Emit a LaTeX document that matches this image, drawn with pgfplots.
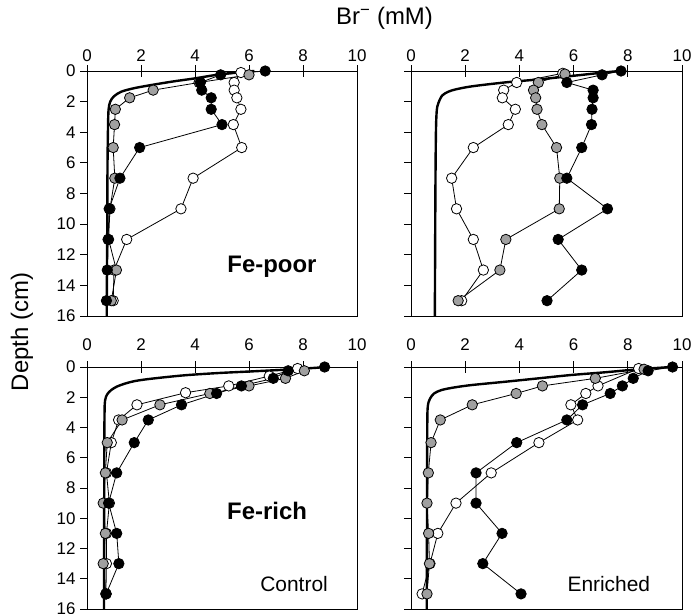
\documentclass[border=0pt]{standalone}
\usepackage{fontspec}
\setmainfont{Liberation Sans}
\usepackage{pgfplots}
\pgfplotsset{compat=1.18}
\definecolor{mgray}{RGB}{160,160,160}
\pgfplotsset{
  panel/.style={
    scale only axis, anchor=north west, width=270bp,
    xmin=0, xmax=10, ymin=0, ymax=16, y dir=reverse,
    xtick={0,2,...,10}, ytick={0,2,...,16},
    xtick pos=right, ytick pos=left,
    xticklabel pos=right,
    major tick length=12bp,
    tick align=center, ytick align=outside,
    xtick style={line width=0.8bp, black},
    ytick style={/pgfplots/major tick length=7bp, line width=0.8bp, black},
    minor tick num=0,
    axis line style={line width=0.8bp, black},
    ticklabel style={font=\fontsize{17}{20}\selectfont},
    /pgf/number format/assume math mode=true,
    xticklabel style={anchor=base, inner sep=0pt},
    yticklabel style={xshift=4bp},
    clip=false,
  },
  model/.style={line width=2.4bp, black, smooth, no marks},
  ser/.style={line width=0.8bp, black, mark=*, mark size=5.2bp,
     mark options={line width=0.8bp, draw=black, fill=#1}},
}
\begin{document}
\begin{tikzpicture}
\useasboundingbox (0,0) rectangle (694bp,-614bp);
% ---------- top left: Fe-poor control
\begin{axis}[panel, at={(87bp,-71bp)}, height=245bp,
  xticklabel style={yshift=4bp}]
\addplot[model] coordinates {(6.2,0) (5.5,0.1) (4.8,0.25) (4.0,0.48) (3.2,0.68) (2.4,0.91) (1.75,1.12) (1.27,1.35) (1.0,1.65) (0.86,2.0) (0.80,2.5) (0.78,3.5) (0.76,6) (0.75,10) (0.73,16)};
\addplot[ser=white] coordinates {(5.7,0.1) (5.45,0.75) (5.45,1.25) (5.55,1.75) (5.7,2.5) (5.42,3.5) (5.73,5) (3.93,7) (3.48,9) (1.47,11) (1.0,13) (0.97,15)};
\addplot[ser=mgray] coordinates {(6.0,0.25) (4.15,0.75) (2.45,1.25) (1.58,1.75) (1.05,2.5) (1.02,3.5) (0.97,5) (1.03,7) (0.85,9) (0.8,11) (1.09,13) (0.9,15)};
\addplot[ser=black] coordinates {(6.6,0) (4.95,0.25) (4.2,0.75) (4.25,1.25) (4.6,1.75) (4.6,2.5) (5.0,3.5) (1.95,5) (1.22,7) (0.82,9) (0.78,11) (0.75,13) (0.72,15)};
\node[font=\bfseries\fontsize{24}{28}\selectfont] at (axis cs:6.85,12.8) {Fe-poor};
\end{axis}
% ---------- top right: Fe-poor enriched
\begin{axis}[panel, at={(411bp,-71bp)}, width=271bp, height=245bp, yticklabels={},
  xticklabel style={yshift=4bp}]
\addplot[model] coordinates {(7.7,0) (7.1,0.1) (5.9,0.33) (4.7,0.55) (3.5,0.74) (2.25,1.0) (1.65,1.2) (1.38,1.35) (1.15,1.6) (1.01,2.1) (0.95,2.6) (0.92,4) (0.9,8) (0.88,16)};
\addplot[ser=white] coordinates {(5.6,0.15) (3.9,0.75) (3.42,1.25) (3.37,1.75) (3.85,2.5) (3.59,3.5) (2.3,5) (1.5,7) (1.68,9) (2.3,11) (2.67,13) (1.87,15)};
\addplot[ser=mgray] coordinates {(5.68,0.2) (4.7,0.75) (4.52,1.25) (4.6,1.75) (4.65,2.5) (4.83,3.5) (5.37,5) (5.49,7) (5.47,9) (3.5,11) (3.28,13) (1.74,15)};
\addplot[ser=black] coordinates {(7.75,0) (7.05,0.25) (5.75,0.75) (6.72,1.25) (6.72,1.75) (6.68,2.5) (6.66,3.5) (6.3,5) (5.75,7) (7.25,9) (5.43,11) (6.3,13) (5.02,15)};
\end{axis}
% ---------- bottom left: Fe-rich control
\begin{axis}[panel, at={(87bp,-367bp)}, height=242bp,
  xticklabel style={yshift=11bp}]
\addplot[model] coordinates {(8.7,0) (8.5,0.05) (7.3,0.18) (6.1,0.29) (4.85,0.4) (3.6,0.55) (2.4,0.77) (1.8,0.92) (1.4,1.1) (1.1,1.3) (0.9,1.52) (0.75,1.8) (0.67,2.2) (0.65,3) (0.64,6) (0.63,16)};
\addplot[ser=white] coordinates {(7.8,0.1) (6.75,0.6) (5.25,1.25) (3.65,1.7) (1.85,2.5) (1.17,3.5) (0.9,5) (0.72,7) (0.83,9) (0.72,11) (0.72,13) (0.7,15)};
\addplot[ser=mgray] coordinates {(8.05,0.25) (7.35,0.75) (6.0,1.25) (4.55,1.75) (2.7,2.5) (1.3,3.5) (0.75,5) (0.68,7) (0.6,9) (0.68,11) (0.6,13) (0.7,15)};
\addplot[ser=black] coordinates {(8.8,0) (7.45,0.25) (6.9,0.75) (5.72,1.25) (4.8,1.75) (3.5,2.5) (2.27,3.5) (1.75,5) (1.1,7) (0.8,9) (1.1,11) (1.18,13) (0.71,15)};
\node[font=\bfseries\fontsize{24}{28}\selectfont] at (axis cs:6.67,9.5) {Fe-rich};
\node[font=\fontsize{21}{25}\selectfont] at (axis cs:7.67,14.37) {Control};
\end{axis}
% ---------- bottom right: Fe-rich enriched
\begin{axis}[panel, at={(411bp,-367bp)}, width=271bp, height=242bp, yticklabels={},
  xticklabel style={yshift=11bp}]
\addplot[model] coordinates {(9.6,0) (8.4,0.15) (7.15,0.35) (5.9,0.53) (4.7,0.75) (3.5,0.97) (2.25,1.19) (1.6,1.35) (1.13,1.52) (0.85,1.75) (0.7,2.1) (0.62,2.6) (0.6,4) (0.59,10) (0.58,16)};
\addplot[ser=white] coordinates {(8.4,0.1) (6.9,1.25) (6.45,1.75) (5.9,2.5) (6.15,3.5) (4.72,5) (2.96,7) (1.66,9) (0.99,11) (0.7,13) (0.41,15)};
\addplot[ser=mgray] coordinates {(8.6,0.15) (6.8,0.75) (4.85,1.25) (3.88,1.75) (2.26,2.5) (1.08,3.5) (0.74,5) (0.64,7) (0.59,9) (0.65,11) (0.68,13) (0.59,15)};
\addplot[ser=black] coordinates {(9.65,0) (8.75,0.25) (8.2,0.75) (7.8,1.25) (7.35,1.75) (6.33,2.5) (5.75,3.5) (3.9,5) (2.4,7) (2.4,9) (3.36,11) (2.65,13) (4.06,15)};
\node[font=\fontsize{21}{25}\selectfont] at (axis cs:7.3,14.37) {Enriched};
\end{axis}
\node[font=\fontsize{24}{28}\selectfont] at (384.5bp,-18bp) {Br\textsuperscript{\char"2212} (mM)};
\node[font=\fontsize{24}{28}\selectfont, rotate=90] at (22bp,-332bp) {Depth (cm)};
\end{tikzpicture}
\end{document}
